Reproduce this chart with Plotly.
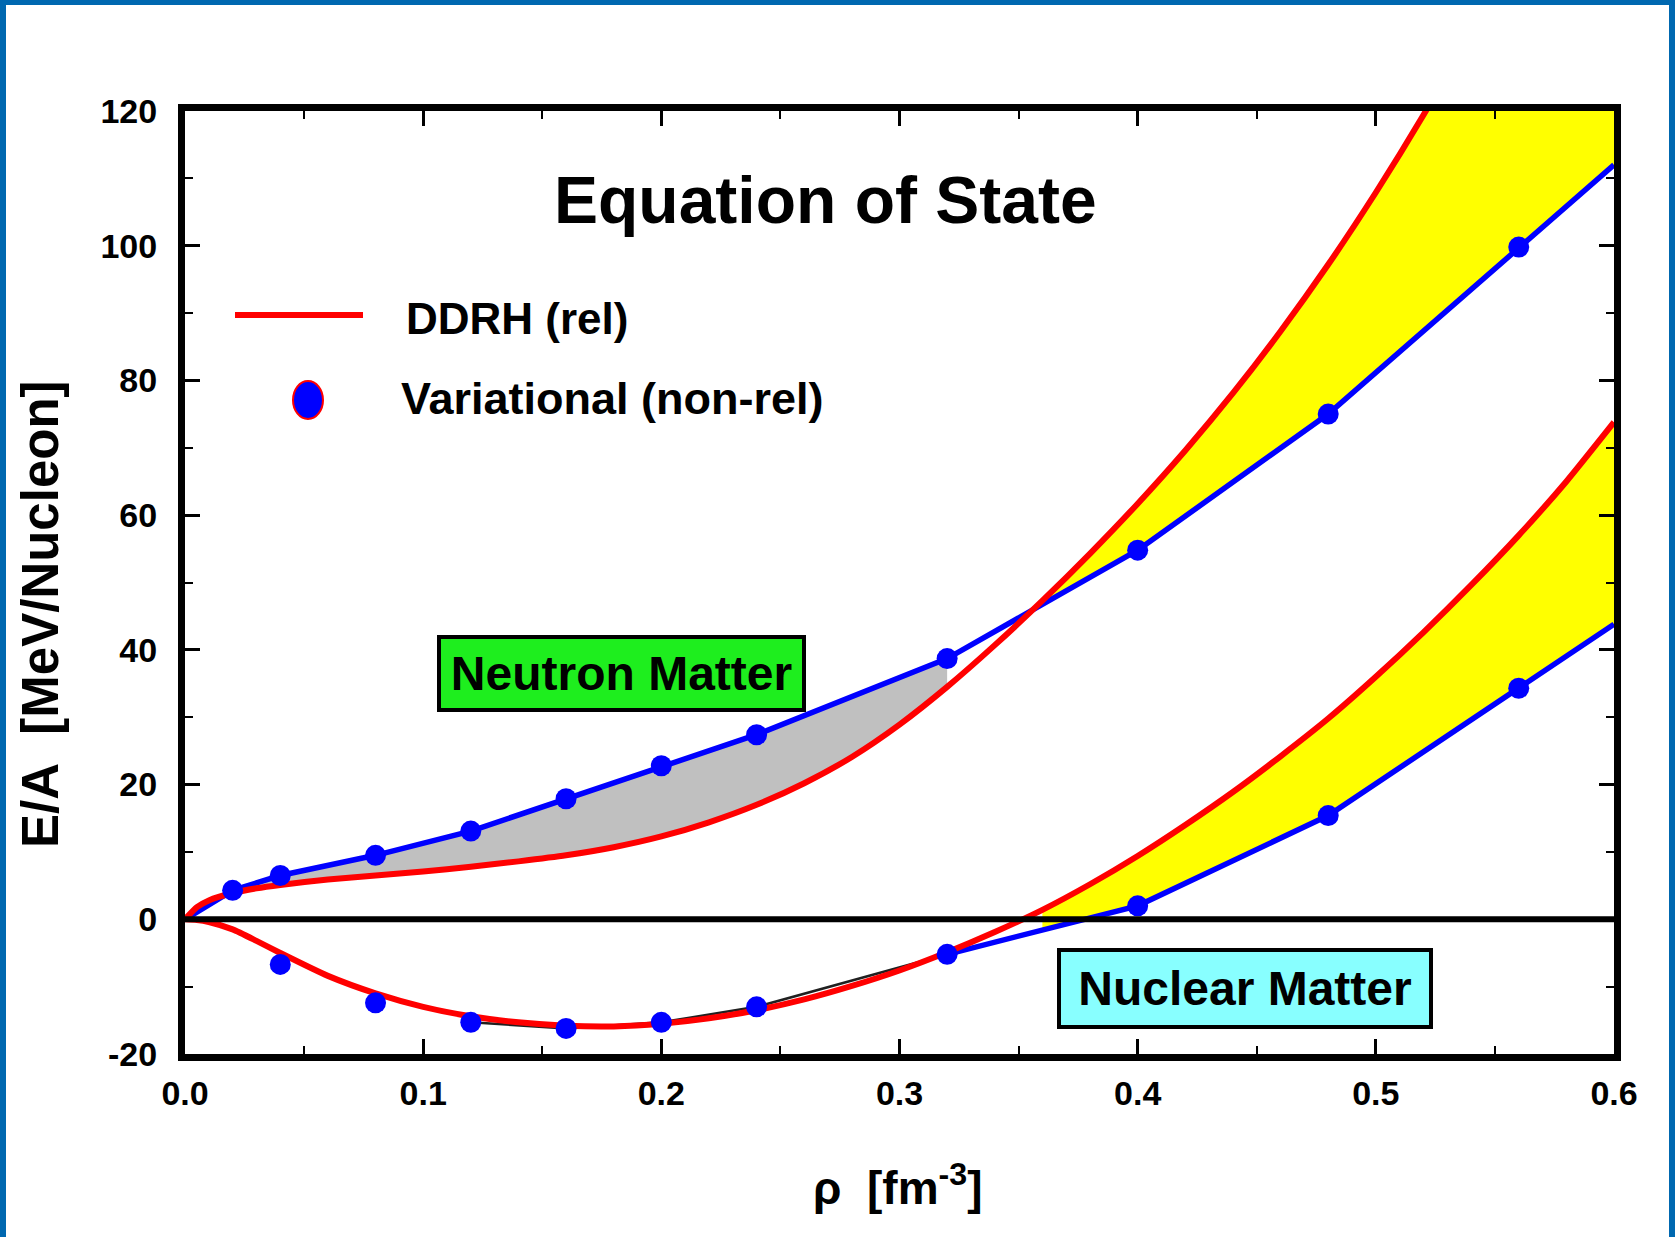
import numpy as np
import plotly.graph_objects as go

# ---------------- data ----------------
# Variational (non-relativistic) results
rho_var_neutron = [0.02, 0.04, 0.08, 0.12, 0.16, 0.20, 0.24, 0.32, 0.40, 0.48, 0.56]
ea_var_neutron = [4.3, 6.5, 9.5, 13.1, 17.9, 22.8, 27.4, 38.7, 54.8, 75.0, 99.8]

rho_var_nuclear = [0.04, 0.08, 0.12, 0.16, 0.20, 0.24, 0.32, 0.40, 0.48, 0.56]
ea_var_nuclear = [-6.7, -12.4, -15.3, -16.2, -15.3, -13.0, -5.2, 2.0, 15.4, 34.3]

# connecting lines of the variational results (incl. start / end of the drawn line)
rho_var_neutron_line = [0.0, 0.02, 0.04, 0.08, 0.12, 0.16, 0.20, 0.24, 0.32, 0.40, 0.48, 0.56, 0.60]
ea_var_neutron_line = [0.0, 4.3, 6.5, 9.5, 13.1, 17.9, 22.8, 27.4, 38.7, 54.8, 75.0, 99.8, 112.0]

rho_var_nuclear_line = [0.32, 0.40, 0.48, 0.56, 0.60]
ea_var_nuclear_line = [-5.2, 2.0, 15.4, 34.3, 43.8]

rho_var_nuclear_dark = [0.12, 0.16, 0.20, 0.24, 0.32]
ea_var_nuclear_dark = [-15.3, -16.2, -15.3, -13.0, -5.2]

# DDRH (relativistic) curves
rho_ddrh = [0.0, 0.005, 0.01, 0.02, 0.03, 0.04, 0.06, 0.08, 0.10, 0.12, 0.14, 0.16, 0.18,
            0.20, 0.22, 0.24, 0.26, 0.28, 0.30, 0.32, 0.34, 0.36, 0.38, 0.40, 0.42, 0.44,
            0.46, 0.48, 0.50, 0.52, 0.54, 0.56, 0.58, 0.60]
ea_ddrh_neutron = [0.0, 1.8, 2.8, 3.9, 4.6, 5.1, 5.9, 6.5, 7.1, 7.8, 8.6, 9.5, 10.7,
                   12.3, 14.4, 17.0, 20.2, 24.1, 28.9, 34.5, 40.7, 47.3, 54.3, 61.7, 69.6, 78.1,
                   87.3, 97.2, 107.9, 119.4, 131.8, 145.0, 159.0, 174.0]
ea_ddrh_nuclear = [0.0, -0.1, -0.4, -1.5, -3.2, -5.0, -8.4, -11.0, -13.0, -14.4, -15.3, -15.8, -15.9,
                   -15.5, -14.7, -13.5, -11.9, -9.9, -7.6, -4.9, -1.9, 1.4, 5.2, 9.4, 14.0, 18.9,
                   24.2, 29.8, 36.0, 42.6, 49.6, 57.0, 65.0, 73.8]

x_tick_vals = [0.0, 0.1, 0.2, 0.3, 0.4, 0.5, 0.6]
x_tick_text = ["0.0", "0.1", "0.2", "0.3", "0.4", "0.5", "0.6"]
y_tick_vals = [-20, 0, 20, 40, 60, 80, 100, 120]
y_tick_text = ["-20", "0", "20", "40", "60", "80", "100", "120"]

# ---------------- layout geometry ----------------
W, H = 1675, 1237
ML, MR, MT, MB = 185, 61, 111, 183
PW = W - ML - MR
PH = H - MT - MB


def px(x):
    return (x - ML) / PW


def py(y):
    return (H - MB - y) / PH


FONT = "Liberation Sans, Arial, Helvetica, sans-serif"
RED = "#FF0000"
BLUE = "#0000FF"
YELLOW = "#FFFF00"
GRAY = "#C0C0C0"
FRAME_BLUE = "#0068B0"

fig = go.Figure()

# ---------------- fills ----------------
def band(x0, x1, lo_x, lo_y, hi_x, hi_y, color):
    g = np.linspace(x0, x1, 300)
    lo = np.interp(g, lo_x, lo_y)
    hi = np.maximum(np.interp(g, hi_x, hi_y), lo)
    fig.add_trace(go.Scatter(x=g, y=lo, mode="lines", line=dict(width=0, color=color),
                             showlegend=False, hoverinfo="skip"))
    fig.add_trace(go.Scatter(x=g, y=hi, mode="lines", line=dict(width=0, color=color),
                             fill="tonexty", fillcolor=color, showlegend=False, hoverinfo="skip"))


# gray: neutron matter, variational above DDRH
band(0.01, 0.32, rho_ddrh, ea_ddrh_neutron, rho_var_neutron_line, ea_var_neutron_line, GRAY)
# yellow: neutron matter, DDRH above variational
band(0.34, 0.60, rho_var_neutron_line, ea_var_neutron_line, rho_ddrh, ea_ddrh_neutron, YELLOW)
# yellow: nuclear matter, DDRH above variational
band(0.36, 0.60, rho_var_nuclear_line, ea_var_nuclear_line, rho_ddrh, ea_ddrh_nuclear, YELLOW)

# ---------------- lines ----------------
fig.add_trace(go.Scatter(x=rho_var_nuclear_dark, y=ea_var_nuclear_dark, mode="lines",
                         line=dict(color="#202020", width=2.5), showlegend=False))
fig.add_trace(go.Scatter(x=rho_var_neutron_line, y=ea_var_neutron_line, mode="lines",
                         line=dict(color=BLUE, width=5.5), showlegend=False))
fig.add_trace(go.Scatter(x=rho_var_nuclear_line, y=ea_var_nuclear_line, mode="lines",
                         line=dict(color=BLUE, width=5.5), showlegend=False))
fig.add_trace(go.Scatter(x=rho_ddrh, y=ea_ddrh_neutron, mode="lines",
                         line=dict(color=RED, width=6, shape="spline", smoothing=0.6),
                         showlegend=False))
fig.add_trace(go.Scatter(x=rho_ddrh, y=ea_ddrh_nuclear, mode="lines",
                         line=dict(color=RED, width=6, shape="spline", smoothing=0.6),
                         showlegend=False))

# ---------------- markers ----------------
fig.add_trace(go.Scatter(x=rho_var_neutron, y=ea_var_neutron, mode="markers",
                         marker=dict(color=BLUE, size=21, line=dict(width=0)), showlegend=False))
fig.add_trace(go.Scatter(x=rho_var_nuclear, y=ea_var_nuclear, mode="markers",
                         marker=dict(color=BLUE, size=21, line=dict(width=0)), showlegend=False))

# ---------------- axes ----------------
axis_common = dict(
    showgrid=False,
    showline=True, linecolor="black", linewidth=7, mirror="allticks",
    ticks="inside", ticklen=15, tickwidth=3, tickcolor="black",
    tickfont=dict(family=FONT, size=34, color="black", weight="bold"),
    tickmode="array",
)
fig.update_xaxes(range=[0, 0.6], tickvals=x_tick_vals, ticktext=x_tick_text,
                 minor=dict(dtick=0.05, ticks="inside", ticklen=8, tickwidth=2, tickcolor="black"),
                 zeroline=False, ticklabelstandoff=3, **axis_common)
fig.update_yaxes(range=[-20, 120], tickvals=y_tick_vals, ticktext=y_tick_text,
                 minor=dict(dtick=10, ticks="inside", ticklen=8, tickwidth=2, tickcolor="black"),
                 zeroline=False,
                 ticklabelstandoff=14, **axis_common)

# ---------------- annotations ----------------
ann = []
ann.append(dict(text="<b>Equation of State</b>", x=px(825), y=py(200), xref="paper", yref="paper",
                xanchor="center", yanchor="middle", showarrow=False,
                font=dict(family=FONT, size=66, color="black")))
ann.append(dict(text="<b>DDRH (rel)</b>", x=px(404), y=py(318), xref="paper", yref="paper",
                xanchor="left", yanchor="middle", showarrow=False,
                font=dict(family=FONT, size=44, color="black")))
ann.append(dict(text="<b>Variational (non-rel)</b>", x=px(399), y=py(398), xref="paper", yref="paper",
                xanchor="left", yanchor="middle", showarrow=False,
                font=dict(family=FONT, size=45, color="black")))
ann.append(dict(text="<b>Neutron Matter</b>", x=px(621), y=py(673), xref="paper", yref="paper",
                xanchor="center", yanchor="middle", showarrow=False,
                width=359, height=67, borderpad=1, borderwidth=4, bordercolor="black",
                bgcolor="#1EEE1E", font=dict(family=FONT, size=48, color="black")))
ann.append(dict(text="<b>Nuclear Matter</b>", x=px(1245), y=py(988), xref="paper", yref="paper",
                xanchor="center", yanchor="middle", showarrow=False,
                width=366, height=71, borderpad=1, borderwidth=4, bordercolor="black",
                bgcolor="#88FFFF", font=dict(family=FONT, size=48, color="black")))
ann.append(dict(text="<b>E/A\u00a0\u00a0[MeV/Nucleon]</b>", x=px(40), y=py(614), xref="paper", yref="paper",
                xanchor="center", yanchor="middle", showarrow=False, textangle=-90,
                font=dict(family=FONT, size=51, color="black")))
ann.append(dict(text="<b>\u03c1\u00a0\u00a0[fm<sup>-3</sup>]</b>", x=px(898), y=py(1185), xref="paper", yref="paper",
                xanchor="center", yanchor="middle", showarrow=False,
                font=dict(family=FONT, size=46, color="black")))

# ---------------- shapes: zero line, legend symbols and outer frame ----------------
shapes = []
shapes.append(dict(type="line", xref="paper", yref="y", x0=0, x1=1, y0=0, y1=0,
                   layer="above", line=dict(color="black", width=6)))
shapes.append(dict(type="line", xref="paper", yref="paper", x0=px(235), x1=px(363),
                   y0=py(315), y1=py(315), line=dict(color=RED, width=6)))
shapes.append(dict(type="circle", xref="paper", yref="paper", x0=px(293), x1=px(323),
                   y0=py(381), y1=py(419), fillcolor=BLUE, line=dict(color=RED, width=2)))
# outer blue frame (left, top, right)
shapes.append(dict(type="rect", xref="paper", yref="paper", x0=px(0), x1=px(6), y0=py(H + 5), y1=py(-5),
                   fillcolor=FRAME_BLUE, line=dict(width=0)))
shapes.append(dict(type="rect", xref="paper", yref="paper", x0=px(-5), x1=px(W + 5), y0=py(5), y1=py(-5),
                   fillcolor=FRAME_BLUE, line=dict(width=0)))
shapes.append(dict(type="rect", xref="paper", yref="paper", x0=px(W - 6), x1=px(W + 5), y0=py(H + 5), y1=py(-5),
                   fillcolor=FRAME_BLUE, line=dict(width=0)))

fig.update_layout(
    width=W, height=H,
    margin=dict(l=ML, r=MR, t=MT, b=MB, pad=0),
    paper_bgcolor="white", plot_bgcolor="white",
    showlegend=False,
    annotations=ann,
    shapes=shapes,
    font=dict(family=FONT),
)

fig.write_html("out.html")
